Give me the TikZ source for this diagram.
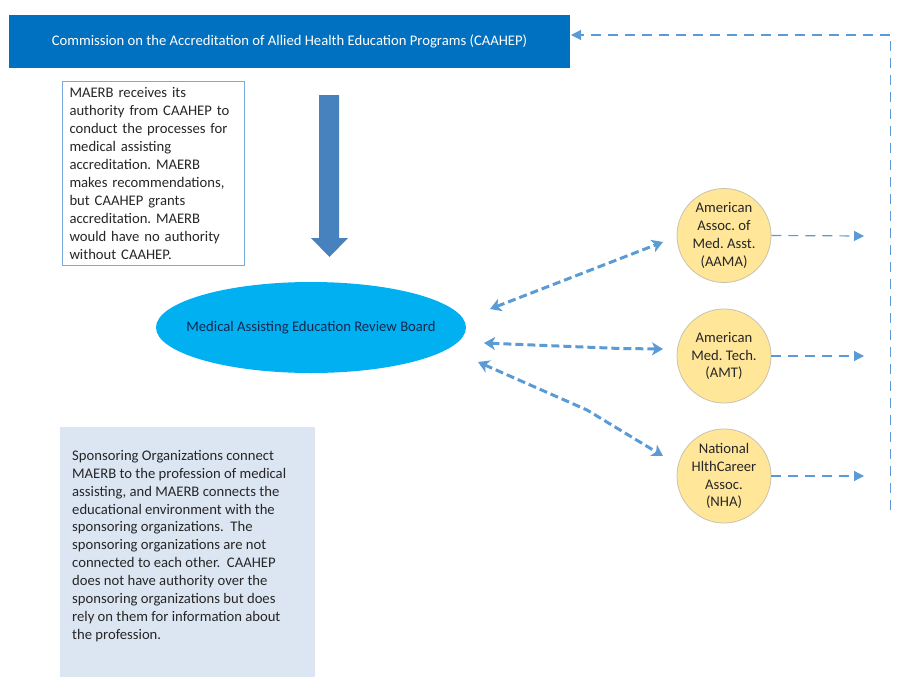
\documentclass[tikz,border=0pt]{standalone}
\usepackage{fontspec}
\setmainfont{Carlito}
\usetikzlibrary{arrows.meta,shapes.geometric}
\definecolor{bannerblue}{RGB}{0,112,192}
\definecolor{bigarrow}{RGB}{72,130,190}
\definecolor{maerbfill}{RGB}{0,176,240}
\definecolor{maerbtext}{RGB}{20,40,80}
\definecolor{orgfill}{RGB}{255,230,153}
\definecolor{orgline}{RGB}{200,195,170}
\definecolor{linkblue}{RGB}{91,155,213}
\definecolor{boxline}{RGB}{120,170,220}
\definecolor{notefill}{RGB}{220,230,242}
\definecolor{txt}{RGB}{38,38,38}
\frenchspacing
\begin{document}
\begin{tikzpicture}[x=1pt,y=-1pt,
  basefont/.style={font=\fontsize{14.67}{17.9}\selectfont},
  banner/.style={basefont, fill=bannerblue, text=white, minimum width=561, minimum height=53, inner sep=0},
  notebox/.style={basefont, draw=boxline, line width=1pt, fill=white, text=txt, minimum width=182, minimum height=184, inner sep=0, text width=168, align=left},
  sponsorbox/.style={basefont, fill=notefill, text=txt, minimum width=255, minimum height=250, inner sep=0},
  board/.style={basefont, ellipse, fill=maerbfill, text=maerbtext, minimum width=310, minimum height=91, inner sep=0},
  org/.style={basefont, circle, fill=orgfill, draw=orgline, line width=0.8pt, minimum size=94, inner sep=0, align=center, text=txt},
  thinlink/.style={draw=linkblue, line width=1.2pt, dash pattern=on 10pt off 7pt, -{Triangle[length=10pt,width=10pt]}},
  thicklink/.style={draw=linkblue, line width=3pt, dash pattern=on 8pt off 4pt, {Stealth[length=11pt,width=13pt,inset=3pt]}-{Stealth[length=11pt,width=13pt,inset=3pt]}}
]
\path[use as bounding box] (0,0) rectangle (918,677);

\node[banner] (caahep) at (289.5,41.5) {Commission on the Accreditation of Allied Health Education Programs (CAAHEP)};

\node[notebox, anchor=north west] (authnote) at (62,81) {MAERB receives its\\
authority from CAAHEP to\\
conduct the processes for\\
medical assisting\\
accreditation. MAERB\\
makes recommendations,\\
but CAAHEP grants\\
accreditation. MAERB\\
would have no authority\\
without CAAHEP.};

\fill[bigarrow] (319,95) -- (339,95) -- (339,238) -- (348,238) -- (329.5,257) -- (311,238) -- (319,238) -- cycle;

\node[board] (maerb) at (311,327.5) {\makebox[0pt]{Medical Assisting Education Review Board}};

\node[sponsorbox, anchor=north west] (sponsornote) at (60,427) {\parbox[c][250pt][t]{231pt}{\vspace*{23pt}Sponsoring Organizations connect\\
MAERB to the profession of medical\\
assisting, and MAERB connects the\\
educational environment with the\\
sponsoring organizations.\ \ The\\
sponsoring organizations are not\\
connected to each other.\ \ CAAHEP\\
does not have authority over the\\
sponsoring organizations but does\\
rely on them for information about\\
the profession.}};

\node[org] (aama) at (724,235.5) {American\\Assoc. of\\Med. Asst.\\(AAMA)};
\node[org] (amt) at (724,356) {American\\Med. Tech.\\(AMT)};
\node[org] (nha) at (724,476) {National\\HlthCareer\\Assoc.\\(NHA)};

% free ends
\coordinate (aamaout) at (864,236);
\coordinate (amtout) at (864,356);
\coordinate (nhaout) at (864,476);
\coordinate (loopbot) at (890.5,510);
\coordinate (looptop) at (890.5,35);
\coordinate (caahepin) at (571,35);

\draw[thinlink] (aama.east) -- (aamaout);
\draw[thinlink] (amt.east) -- (amtout);
\draw[thinlink] (nha.east) -- (nhaout);
\draw[thinlink] (loopbot) -- (looptop) -- (caahepin);

\coordinate (m1) at (490,309);
\coordinate (m2) at (484,343);
\coordinate (m3) at (478,362);
\coordinate (o1) at (663,242);
\coordinate (o2) at (663,349);
\coordinate (o3) at (663,456);
\draw[thicklink] (m1) -- (o1);
\draw[thicklink] (m2) -- (620,348.5) -- (o2);
\draw[thicklink] (m3) -- (587,410) -- (o3);
\end{tikzpicture}
\end{document}
